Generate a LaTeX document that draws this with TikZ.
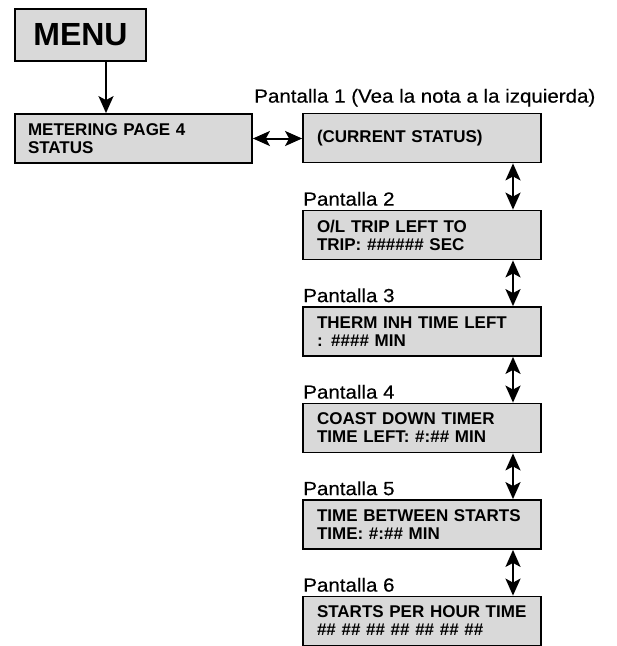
\documentclass[tikz,border=0pt]{standalone}
\usepackage{fontspec}
\setmainfont{Liberation Sans}
\newfontfamily\tagfont[FakeStretch=1.08,FakeBold=0.4]{Liberation Sans}
\usetikzlibrary{arrows.meta}
\definecolor{boxgray}{RGB}{217,217,217}

\begin{document}
\begin{tikzpicture}[x=1pt,y=-1pt,
 tip/.tip={Stealth[length=17pt,width=15pt,inset=4pt]},
 screen/.style={draw,line width=1.8pt,fill=boxgray,minimum width=238pt,minimum height=49pt,
   text width=210pt,align=left,inner sep=0pt,font=\fontsize{17}{18}\selectfont\bfseries},
 head/.style={draw,line width=1.8pt,fill=boxgray,minimum width=131pt,minimum height=52pt,
   inner sep=0pt,font=\fontsize{32}{36}\selectfont\bfseries},
 tag/.style={anchor=base west,inner sep=0pt,font=\tagfont\fontsize{19}{22}\selectfont},
 link/.style={tip-tip,line width=2pt}]
\useasboundingbox (0,0) rectangle (617,646);
\node[head] (menu) at (80.5,35) {MENU};
\node[screen,minimum width=237pt,text width=211pt] (met) at (133.5,138.5) {METERING PAGE 4\\STATUS};
\node[screen] (s1) at (422,138) {(CURRENT STATUS)};
\node[screen] (s2) at (422,235) {O/L TRIP LEFT TO\\TRIP: \#\#\#\#\#\# SEC};
\node[screen] (s3) at (422,331.5) {THERM INH TIME LEFT\\: \#\#\#\# MIN};
\node[screen] (s4) at (422,428) {COAST DOWN TIMER\\TIME LEFT: \#:\#\# MIN};
\node[screen] (s5) at (422,524.5) {TIME BETWEEN STARTS\\TIME: \#:\#\# MIN};
\node[screen] (s6) at (422,621) {STARTS PER HOUR TIME\\\#\# \#\# \#\# \#\# \#\# \#\# \#\#};
\node[tag] (t1) at ([xshift=-48pt,yshift=10pt]s1.north west) {Pantalla 1 (Vea la nota a la izquierda)};
\node[tag] (t2) at ([xshift=1pt,yshift=4pt]s2.north west) {Pantalla 2};
\node[tag] (t3) at ([xshift=1pt,yshift=4pt]s3.north west) {Pantalla 3};
\node[tag] (t4) at ([xshift=1pt,yshift=4pt]s4.north west) {Pantalla 4};
\node[tag] (t5) at ([xshift=1pt,yshift=4pt]s5.north west) {Pantalla 5};
\node[tag] (t6) at ([xshift=1pt,yshift=4pt]s6.north west) {Pantalla 6};
\draw[-tip,line width=2pt] ([xshift=25.5pt]menu.south) -- ([xshift=25.5pt]menu.south |- met.north);
\draw[link] (met.east) -- (met.east -| s1.west);
\draw[link] ([xshift=91pt]s1.south) -- ([xshift=91pt]s2.north);
\draw[link] ([xshift=91pt]s2.south) -- ([xshift=91pt]s3.north);
\draw[link] ([xshift=91pt]s3.south) -- ([xshift=91pt]s4.north);
\draw[link] ([xshift=91pt]s4.south) -- ([xshift=91pt]s5.north);
\draw[link] ([xshift=91pt]s5.south) -- ([xshift=91pt]s6.north);
\end{tikzpicture}
\end{document}
